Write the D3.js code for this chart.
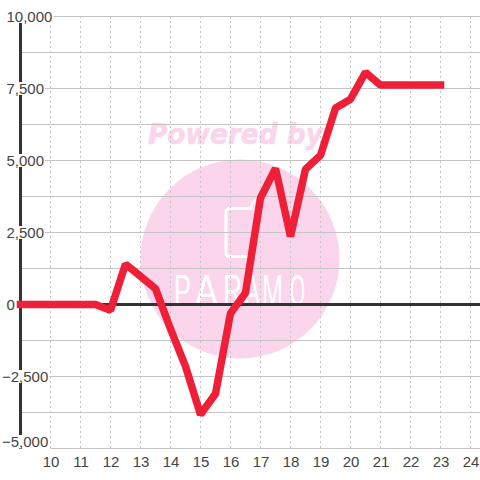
<!DOCTYPE html>
<html>
<head>
<meta charset="utf-8">
<script src="https://cdnjs.cloudflare.com/ajax/libs/d3/7.8.5/d3.min.js"></script>
<style>
  html, body { margin: 0; padding: 0; background: #fff; }
  svg { display: block; }
  text { font-family: "Liberation Sans", sans-serif; font-size: 15px; fill: #444; }
</style>
</head>
<body>
<svg id="chart" width="480" height="480"></svg>
<script>
const hours  = [9, 9.5, 10, 10.5, 11, 11.5, 12, 12.5, 13, 13.5, 14, 14.5, 15, 15.5, 16, 16.5, 17, 17.5, 18, 18.5, 19, 19.5, 20, 20.5, 21, 21.5, 22, 22.5, 23];
const values = [0, 0, 0, 0, 0, 0, -200, 1400, 980, 550, -850, -2150, -3820, -3100, -300, 400, 3700, 4720, 2360, 4700, 5180, 6820, 7130, 8060, 7620, 7620, 7620, 7620, 7620];
const yTicks = [-5000, -2500, 0, 2500, 5000, 7500, 10000];
const yMinor = [-3750, -1250, 1250, 3750, 6250, 8750];
const xTicks = [10, 11, 12, 13, 14, 15, 16, 17, 18, 19, 20, 21, 22, 23, 24];
const logoLetters = ['P', 'A', 'R', 'A', 'M', 'O'];
const logoStarts  = [174, 195, 223, 244, 262, 290];
const logoWidths  = [17, 23, 19, 16, 21, 15];

const x = d3.scaleLinear().domain([9, 25]).range([20.5, 500.5]);
const y = d3.scaleLinear().domain([-5000, 10000]).range([448.5, 16.5]);

const svg = d3.select('#chart');

// watermark
const mark = svg.append('g').attr('class', 'watermark');
mark.append('circle').attr('cx', 240).attr('cy', 259).attr('r', 99.5).attr('fill', '#fbd5ec');
mark.append('text').attr('x', 148).attr('y', 144)
  .attr('textLength', 175).attr('lengthAdjust', 'spacingAndGlyphs')
  .style('font-family', '"DejaVu Sans"').style('font-weight', 'bold').style('font-style', 'italic')
  .style('font-size', '29px').style('fill', '#fbd5ec')
  .style('stroke', '#fbd5ec').style('stroke-width', 0.6).text('Powered by');
mark.append('path')
  .attr('d', 'M256,200 Q252,202 251,208.5 L230,208.5 Q226,208.5 226,212.5 L226,252.5 Q226,256.5 230,256.5 L256,256.5')
  .attr('fill', 'none').attr('stroke', '#fff').attr('stroke-width', 3);
// logo letters are tall and narrow, squeeze each one to its width
mark.selectAll('.logo').data(logoLetters).enter().append('text')
  .attr('class', 'logo')
  .style('font-size', '44px').style('fill', '#fff')
  .text(d => d)
  .attr('transform', function (d, i) {
    const sx = logoWidths[i] / this.getComputedTextLength();
    return `translate(${logoStarts[i]},306) scale(${sx},1)`;
  });

// grid
const grid = svg.append('g').attr('class', 'grid');
grid.selectAll('.v').data(xTicks).enter().append('line')
  .attr('x1', d => x(d)).attr('x2', d => x(d))
  .attr('y1', 16).attr('y2', 448)
  .attr('stroke', '#c4c4c4').attr('stroke-dasharray', '2,3');
grid.selectAll('.h').data(yTicks.concat(yMinor)).enter().append('line')
  .attr('x1', d => d === -5000 ? x(10) : 20).attr('x2', 480)
  .attr('y1', d => y(d)).attr('y2', d => y(d))
  .attr('stroke', '#c4c4c4');

// zero line and left axis
svg.append('line').attr('x1', 20).attr('x2', 480).attr('y1', y(0)).attr('y2', y(0))
  .attr('stroke', '#333').attr('stroke-width', 3);
svg.append('line').attr('x1', x(9)).attr('x2', x(9)).attr('y1', y(10000)).attr('y2', y(-5000))
  .attr('stroke', '#333').attr('stroke-width', 3);

// labels, left aligned with the minus sign hanging out, white box knocks out the axis
const fmt = d3.format(',');
const yLabels = svg.append('g').selectAll('g').data(yTicks).enter().append('g');
yLabels.append('text')
  .attr('x', d => d < 0 ? 2 : 6.5)
  .attr('y', d => Math.min(y(d) + 5.5, 447))
  .text(d => fmt(d))
  .each(function () {
    const b = this.getBBox();
    d3.select(this.parentNode).insert('rect', 'text')
      .attr('x', b.x).attr('y', b.y + 2).attr('width', b.width + 1).attr('height', 13)
      .attr('fill', '#fff');
  });

// series
const line = d3.line().x((d, i) => x(hours[i])).y(d => y(d));
svg.append('path').datum(values)
  .attr('d', line)
  .attr('fill', 'none')
  .attr('stroke', '#ee1f36')
  .attr('stroke-width', 7.5)
  .attr('stroke-linecap', 'square')
  .attr('stroke-linejoin', 'bevel');

svg.append('g').selectAll('text').data(xTicks).enter().append('text')
  .attr('x', d => x(d) + 0.5).attr('y', 467)
  .attr('text-anchor', 'middle')
  .text(d => d);
</script>
</body>
</html>
